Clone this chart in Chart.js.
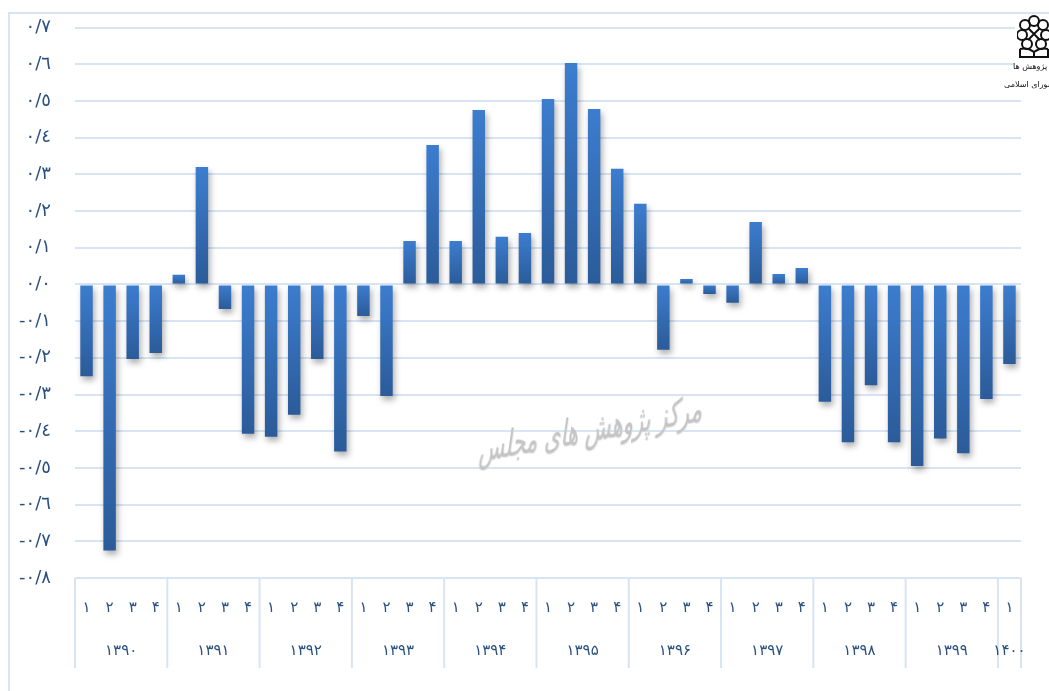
<!DOCTYPE html>
<html lang="fa">
<head>
<meta charset="utf-8">
<title>Chart</title>
<script src="https://cdn.jsdelivr.net/npm/chart.js@4"></script>
<style>
    html, body { margin: 0; padding: 0; background: #fff; width: 1049px; height: 691px; overflow: hidden; }
    #frame { position: absolute; left: 8px; top: 12px; width: 1200px; height: 900px; border: 2px solid #d6e4f4; }
    #chart { position: absolute; left: 0; top: 0; }
    #watermark {
        position: absolute; left: 590px; top: 428px; white-space: nowrap; direction: rtl;
        font: italic 32px "DejaVu Sans", sans-serif; color: #c4c4c4;
        text-shadow: 1px 1px 1px #ddd;
        transform: translate(-50%, -50%) scale(0.66, 1.15) skewY(-6deg);
    }
    #logo { position: absolute; left: 1004px; top: 15px; width: 45px; height: 80px; overflow: hidden; }
    #logo::before { content: ""; position: absolute; left: 11px; top: 0; width: 34px; height: 80px; background: #fff; }
    #logo svg { position: absolute; left: 13px; top: 0; }
    #logo div { position: absolute; white-space: nowrap; direction: rtl; font: 8px "DejaVu Sans", sans-serif; color: #111; }
</style>
</head>
<body>
<div id="frame"></div>
<canvas id="chart" width="1049" height="691"></canvas>
<div id="watermark">مرکز پژوهش های مجلس</div>
<div id="logo">
    <svg width="34" height="44" viewBox="0 0 34 44" fill="none" stroke="#111" stroke-width="2">
        <circle cx="17" cy="6" r="5"/>
        <circle cx="8" cy="10" r="5"/>
        <circle cx="26" cy="10" r="5"/>
        <circle cx="5" cy="20" r="5"/>
        <circle cx="29" cy="20" r="5"/>
        <circle cx="10" cy="29" r="5"/>
        <circle cx="24" cy="29" r="5"/>
        <path d="M11 13 L23 25 M23 13 L11 25"/>
        <path d="M3 34 L3 42 L31 42 L31 34 M3 34 Q10 32 17 37 Q24 32 31 34 M17 37 L17 42"/>
    </svg>
    <div style="top:47px; left:9px">مرکز پژوهش ها</div>
    <div style="top:65px; left:0">مجلس شورای اسلامی</div>
</div>

<script>
const quarters = ['۱', '۲', '۳', '۴'];
const years = ['۱۳۹۰', '۱۳۹۱', '۱۳۹۲', '۱۳۹۳', '۱۳۹۴', '۱۳۹۵', '۱۳۹۶', '۱۳۹۷', '۱۳۹۸', '۱۳۹۹', '۱۴۰۰'];
const quartersPerYear = [4, 4, 4, 4, 4, 4, 4, 4, 4, 4, 1];

const values = [
    -0.25, -0.725, -0.203, -0.187,
    0.026, 0.32, -0.067, -0.407,
    -0.415, -0.355, -0.203, -0.455,
    -0.086, -0.304, 0.118, 0.38,
    0.118, 0.475, 0.13, 0.14,
    0.505, 0.603, 0.478, 0.315,
    0.22, -0.178, 0.015, -0.026,
    -0.05, 0.17, 0.028, 0.045,
    -0.32, -0.43, -0.275, -0.43,
    -0.495, -0.42, -0.46, -0.312,
    -0.217
];

const yTickLabels = [
    '-۰/۸', '-۰/۷', '-۰/٦', '-۰/٥', '-۰/٤', '-۰/۳', '-۰/۲', '-۰/۱',
    '۰/۰', '۰/۱', '۰/۲', '۰/۳', '۰/٤', '۰/٥', '۰/٦', '۰/۷'
];

const labels = [];
quartersPerYear.forEach(n => {
    for (let i = 0; i < n; i++) labels.push(quarters[i]);
});

const lineColor = '#d6e4f4';
const textColor = '#2a5082';
const fontFamily = '"DejaVu Sans", sans-serif';

// year row and the separators under the axis
const yearGroups = {
    id: 'yearGroups',
    afterDraw(chart) {
        const x = chart.scales.x;
        const ctx = chart.ctx;
        const step = x.getPixelForValue(1) - x.getPixelForValue(0);
        const top = chart.chartArea.bottom;
        ctx.save();
        ctx.strokeStyle = lineColor;
        ctx.lineWidth = 2;
        ctx.fillStyle = textColor;
        ctx.font = '15px ' + fontFamily;
        ctx.textAlign = 'center';
        ctx.textBaseline = 'middle';

        let start = 0;
        const drawSep = px => {
            ctx.beginPath();
            ctx.moveTo(px, top);
            ctx.lineTo(px, 668);
            ctx.stroke();
        };
        drawSep(x.getPixelForValue(0) - step / 2);
        years.forEach((year, i) => {
            const end = start + quartersPerYear[i];
            const left = x.getPixelForValue(start) - step / 2;
            const right = x.getPixelForValue(end - 1) + step / 2;
            drawSep(right);
            ctx.fillText(year, (left + right) / 2, 651);
            start = end;
        });
        ctx.restore();
    }
};

// soft shadow below the bars
const barShadow = {
    id: 'barShadow',
    beforeDatasetDraw(chart) {
        const ctx = chart.ctx;
        ctx.save();
        ctx.shadowColor = 'rgba(0, 0, 0, 0.32)';
        ctx.shadowBlur = 6;
        ctx.shadowOffsetX = 2;
        ctx.shadowOffsetY = 4;
    },
    afterDatasetDraw(chart) {
        chart.ctx.restore();
    }
};

function barGradient(context) {
    const chart = context.chart;
    const y = chart.scales.y;
    if (!y || context.raw === undefined) return '#3570bb';
    const a = y.getPixelForValue(Math.max(context.raw, 0));
    const b = y.getPixelForValue(Math.min(context.raw, 0));
    if (!isFinite(a) || !isFinite(b)) return '#3570bb';
    const g = chart.ctx.createLinearGradient(0, a, 0, b);
    g.addColorStop(0, '#3c7dcf');
    g.addColorStop(1, '#2b5b99');
    return g;
}

new Chart(document.getElementById('chart').getContext('2d'), {
    type: 'bar',
    data: {
        labels: labels,
        datasets: [{
            data: values,
            backgroundColor: barGradient,
            barPercentage: 0.54,
            categoryPercentage: 1
        }]
    },
    options: {
        responsive: false,
        animation: false,
        layout: { padding: { left: 0, right: 28, top: 27.5, bottom: 0 } },
        plugins: {
            legend: { display: false },
            tooltip: { enabled: false }
        },
        scales: {
            x: {
                afterFit: scale => { scale.height = 113; },
                grid: { display: false, drawTicks: false },
                border: { display: false },
                ticks: {
                    padding: 21,
                    autoSkip: false,
                    maxRotation: 0,
                    color: textColor,
                    font: { size: 15, family: fontFamily }
                }
            },
            y: {
                min: -0.8,
                max: 0.7,
                afterFit: scale => {
                    scale.width = 75;
                    scale.paddingTop = 0;
                    scale.paddingBottom = 0;
                },
                grid: { color: lineColor, lineWidth: 2, drawTicks: false },
                border: { display: false },
                ticks: {
                    stepSize: 0.1,
                    padding: 24,
                    color: textColor,
                    font: { size: 18, family: fontFamily },
                    callback: (value, index) => yTickLabels[index]
                }
            }
        }
    },
    plugins: [yearGroups, barShadow]
});
</script>
</body>
</html>
